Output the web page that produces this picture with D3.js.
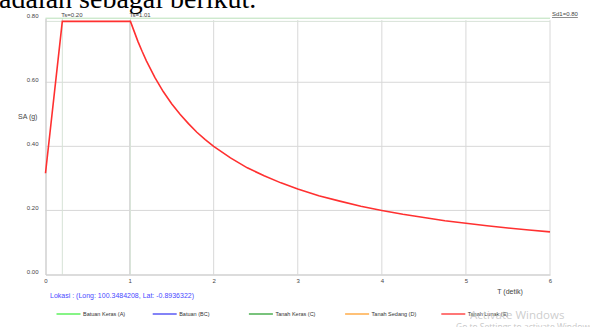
<!DOCTYPE html>
<html>
<head>
<meta charset="utf-8">
<script src="https://cdn.jsdelivr.net/npm/d3@7/dist/d3.min.js"></script>
<style>
  html, body { margin: 0; padding: 0; background: #fff; }
  svg { display: block; }
</style>
</head>
<body>
<svg id="chart" width="590" height="327"></svg>
<script>
// Response spectrum, Tanah Lunak (E)
const periods = [0, 0.20, 1.01, 1.05, 1.10, 1.15, 1.20, 1.30, 1.40, 1.50, 1.60, 1.70, 1.80, 1.90, 2.00, 2.20, 2.40, 2.60, 2.80, 3.00, 3.25, 3.50, 3.75, 4.00, 4.25, 4.50, 4.75, 5.00, 5.25, 5.50, 5.75, 6.00];
const saValues = [0.316, 0.79, 0.79, 0.762, 0.727, 0.696, 0.667, 0.615, 0.571, 0.533, 0.500, 0.471, 0.444, 0.421, 0.400, 0.364, 0.333, 0.308, 0.286, 0.267, 0.246, 0.229, 0.213, 0.200, 0.188, 0.178, 0.168, 0.160, 0.152, 0.145, 0.139, 0.133];

const xTicks = [0, 1, 2, 3, 4, 5, 6];
const yTicks = [0, 0.2, 0.4, 0.6, 0.8];
const tsMarks = [0.20, 1.01];
const sds = 0.79;
const sd1 = 0.80;

const legendNames = ["Batuan Keras (A)", "Batuan (BC)", "Tanah Keras (C)", "Tanah Sedang (D)", "Tanah Lunak (E)"];
const legendColors = ["#5ef05e", "#5a5af5", "#4caf50", "#ffad4a", "#ff4a4a"];

const svg = d3.select("#chart");
const font = "'Liberation Sans', Arial, sans-serif";

const x = d3.scaleLinear().domain([0, 6]).range([45.5, 550]);
const y = d3.scaleLinear().domain([0, 0.8]).range([274.5, 18.2]);

// Text above the chart
svg.append("text")
  .attr("x", -1).attr("y", 8)
  .attr("font-family", "'Liberation Serif', 'Times New Roman', serif")
  .attr("font-size", 28)
  .attr("fill", "#000")
  .text("adalah sebagai berikut.");

// Grid
const grid = svg.append("g");
grid.selectAll("line.gx").data(xTicks.slice(1)).join("line")
  .attr("x1", d => x(d)).attr("x2", d => x(d))
  .attr("y1", y(0.8) + 2).attr("y2", y(0))
  .attr("stroke", "#d8d8d8").attr("stroke-width", 1);
grid.selectAll("line.gy").data(yTicks.slice(1, 4)).join("line")
  .attr("x1", x(0)).attr("x2", x(6))
  .attr("y1", d => y(d)).attr("y2", d => y(d))
  .attr("stroke", "#d8d8d8").attr("stroke-width", 1);

// Ts markers
grid.selectAll("line.ts").data(tsMarks).join("line")
  .attr("x1", d => x(d)).attr("x2", d => x(d))
  .attr("y1", y(0.8)).attr("y2", y(0))
  .attr("stroke", "#d6e2d6").attr("stroke-width", 1);
svg.selectAll("text.ts").data(tsMarks).join("text")
  .attr("x", d => x(d) - 1).attr("y", 17)
  .attr("font-family", font).attr("font-size", 6)
  .attr("fill", "#444")
  .text(d => "Ts=" + d.toFixed(2));

// SDS and SD1 reference lines
svg.append("line")
  .attr("x1", x(0)).attr("x2", x(6))
  .attr("y1", y(sds)).attr("y2", y(sds))
  .attr("stroke", "#d8e2d8").attr("stroke-width", 1);
svg.append("line")
  .attr("x1", x(0)).attr("x2", x(6))
  .attr("y1", y(sd1)).attr("y2", y(sd1))
  .attr("stroke", "#b8e0b8").attr("stroke-width", 1);
svg.append("text")
  .attr("x", x(6) + 2).attr("y", 16)
  .attr("font-family", font).attr("font-size", 6)
  .attr("fill", "#444").attr("text-decoration", "underline")
  .text("Sd1=" + sd1.toFixed(2));

// Axes
const xAxis = d3.axisBottom(x).tickValues(xTicks).tickSize(0).tickFormat(d3.format("d"));
const gx = svg.append("g").attr("transform", `translate(0,${y(0)})`).call(xAxis);
gx.select(".domain").attr("stroke", "#d0d0d0").attr("stroke-width", 1.5);
gx.selectAll("text").attr("font-family", font).attr("font-size", 6).attr("fill", "#444").attr("dy", "0.5em").attr("y", 5);

const yAxis = d3.axisLeft(y).tickValues(yTicks).tickSize(0).tickFormat(d3.format(".2f"));
const gy = svg.append("g").attr("transform", `translate(${x(0)},0)`).call(yAxis);
gy.select(".domain").attr("stroke", "#d0d0d0").attr("stroke-width", 1.5);
gy.selectAll("text").attr("font-family", font).attr("font-size", 6).attr("fill", "#444").attr("x", -7).attr("dy", "-0.15em");

// Axis titles
svg.append("text").attr("x", 18).attr("y", 119)
  .attr("font-family", font).attr("font-size", 7).attr("fill", "#444")
  .text("SA (g)");
svg.append("text").attr("x", 510).attr("y", 294).attr("text-anchor", "middle")
  .attr("font-family", font).attr("font-size", 7).attr("fill", "#444")
  .text("T (detik)");

// Spectrum line
const line = d3.line().x(d => x(d[0])).y(d => y(d[1]));
svg.append("path")
  .datum(periods.map((t, i) => [t, saValues[i]]))
  .attr("d", line)
  .attr("fill", "none")
  .attr("stroke", "#ff3030")
  .attr("stroke-width", 1.6);

// Location
svg.append("text").attr("x", 50).attr("y", 298)
  .attr("font-family", font).attr("font-size", 7).attr("fill", "#4a4aff")
  .text("Lokasi :  (Long: 100.3484208, Lat: -0.8936322)");

// Legend
const legend = svg.append("g").selectAll("g").data(legendNames).join("g")
  .attr("transform", (d, i) => `translate(${56.5 + i * 96.2},314)`);
legend.append("line").attr("x1", 0).attr("x2", 24).attr("y1", 0).attr("y2", 0)
  .attr("stroke", (d, i) => legendColors[i]).attr("stroke-width", 1.5);
legend.append("text").attr("x", 26.5).attr("y", 2)
  .attr("font-family", font).attr("font-size", 5.5).attr("fill", "#333")
  .text(d => d);

// System overlay
svg.append("text").attr("x", 470).attr("y", 319)
  .attr("font-family", "'Open Sans', 'Noto Sans', sans-serif").attr("font-size", 11.5).attr("fill", "#c4c4c4")
  .attr("fill-opacity", 0.85)
  .text("Activate Windows");
svg.append("text").attr("x", 456).attr("y", 330)
  .attr("font-family", "'Open Sans', 'Noto Sans', sans-serif").attr("font-size", 8.5).attr("fill", "#c8c8c8")
  .text("Go to Settings to activate Windows");
</script>
</body>
</html>
